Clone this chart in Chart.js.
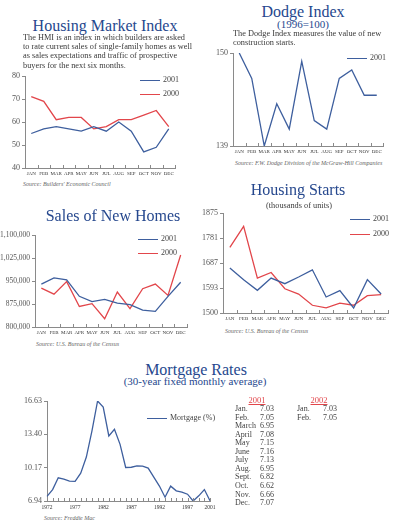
<!DOCTYPE html>
<html>
<head>
<meta charset="utf-8">
<script src="https://cdn.jsdelivr.net/npm/chart.js@4"></script>
<style>
body { margin: 0; width: 400px; height: 524px; position: relative; background: #fff; overflow: hidden;
       font-family: 'Liberation Serif', serif; color: #444; }
.a { position: absolute; white-space: nowrap; line-height: 1; }
.c { transform: translateX(-50%); }
.title { color: #26488e; font-size: 16px; }
.sub { color: #26488e; font-size: 11px; }
.desc { font-size: 8.3px; line-height: 9.2px; color: #3a3a3a; will-change: transform; }
.src { font-size: 6px; font-style: italic; color: #666; }
.lg { font-size: 8px; color: #444; }
.lg i { display: inline-block; width: 20px; height: 1.3px; vertical-align: middle; margin-right: 3px; }
.tbl { font-size: 8px; color: #444; }
.yr { font-size: 8.5px; color: #e2464b; text-decoration: underline; }
.box { position: absolute; }
</style>
</head>
<body>

<div class="a c title" style="left:105px;top:18px">Housing Market Index</div>
<div class="a desc" style="left:23px;top:33px">The HMI is an index in which builders are asked<br>to rate current sales of single-family homes as well<br>as sales expectations and traffic of prospective<br>buyers for the next six months.</div>
<div class="a src" style="left:23px;top:181px">Source: Builders' Economic Council</div>
<div class="box" style="left:0px;top:68px;width:180px;height:114px"><canvas id="hmi"></canvas></div>

<div class="a c title" style="left:303px;top:4px">Dodge Index</div>
<div class="a c sub" style="left:303px;top:18.5px">(1996=100)</div>
<div class="a desc" style="left:233px;top:29px">The Dodge Index measures the value of new<br>construction starts.</div>
<div class="a src" style="left:235px;top:160px">Source: F.W. Dodge Division of the McGraw-Hill Companies</div>
<div class="box" style="left:200px;top:45px;width:188px;height:115px"><canvas id="dodge"></canvas></div>

<div class="a c title" style="left:113px;top:208px">Sales of New Homes</div>
<div class="a src" style="left:36px;top:341px">Source: U.S. Bureau of the Census</div>
<div class="box" style="left:0px;top:227px;width:192px;height:114px"><canvas id="sales"></canvas></div>

<div class="a c title" style="left:298px;top:182px">Housing Starts</div>
<div class="a c desc" style="left:299px;top:201px">(thousands of units)</div>
<div class="a src" style="left:225px;top:328px">Source: U.S. Bureau of the Census</div>
<div class="box" style="left:200px;top:205px;width:193px;height:122px"><canvas id="starts"></canvas></div>

<div class="a c title" style="left:196px;top:362px">Mortgage Rates</div>
<div class="a c sub" style="left:195px;top:375.5px">(30-year fixed monthly average)</div>
<div class="a src" style="left:44px;top:515px">Source: Freddie Mac</div>
<div class="box" style="left:0px;top:393px;width:222px;height:120px"><canvas id="mort"></canvas></div>

<div id="legends"></div>
<div id="table"></div>

<script>
// monthly charts
const months = ['JAN', 'FEB', 'MAR', 'APR', 'MAY', 'JUN', 'JUL', 'AUG', 'SEP', 'OCT', 'NOV', 'DEC'];

const hmi2001 = [55, 57, 58, 57, 56, 58, 56, 60, 56, 47, 49, 57];
const hmi2000 = [71, 69, 61, 62, 62, 57, 58, 61, 61, 63, 65, 58];
const hmiTicks = [40, 50, 60, 70, 80];

const dodge2001 = [150, 147, 139, 144, 141, 149, 142, 141, 147, 148, 145, 145];
const dodgeTicks = [139, 150];

const sales2001 = [940000, 960000, 954000, 900000, 883000, 890000, 878000, 873000, 855000, 851000, 900000, 946000];
const sales2000 = [927000, 907000, 948000, 867000, 876000, 827000, 914000, 860000, 925000, 940000, 903000, 1035000];
const salesTicks = [800000, 875000, 950000, 1025000, 1100000];

const starts2001 = [1669, 1625, 1585, 1631, 1610, 1635, 1662, 1560, 1584, 1519, 1625, 1571];
const starts2000 = [1746, 1825, 1631, 1652, 1591, 1571, 1529, 1519, 1537, 1529, 1565, 1569];
const startsTicks = [1500, 1593, 1687, 1781, 1875];

// mortgage, yearly
const years = ['1972', '1973', '1974', '1975', '1976', '1977', '1978', '1979', '1980', '1981',
               '1982', '1983', '1984', '1985', '1986', '1987', '1988', '1989', '1990', '1991',
               '1992', '1993', '1994', '1995', '1996', '1997', '1998', '1999', '2000', '2001'];
const yearLabels = ['1972', '1977', '1982', '1987', '1992', '1997', '2001'];
const mortgage = [7.38, 8.04, 9.19, 9.05, 8.87, 8.85, 9.64, 11.20, 13.74, 16.63,
                  16.04, 13.24, 13.88, 12.43, 10.19, 10.21, 10.34, 10.32, 10.13, 9.25,
                  8.39, 7.31, 8.38, 7.93, 7.81, 7.60, 6.94, 7.44, 8.05, 6.97];
const mortTicks = [6.94, 10.17, 13.40, 16.63];

// table
const tblMonths2001 = ['Jan.', 'Feb.', 'March', 'April', 'May', 'June', 'July', 'Aug.', 'Sept.', 'Oct.', 'Nov.', 'Dec.'];
const tblRates2001 = ['7.03', '7.05', '6.95', '7.08', '7.15', '7.16', '7.13', '6.95', '6.82', '6.62', '6.66', '7.07'];
const tblMonths2002 = ['Jan.', 'Feb.'];
const tblRates2002 = ['7.03', '7.05'];

const blue = '#3e5f9e', red = '#e2464b', axis = '#8a8a8a';
Chart.defaults.font.family = "'Liberation Serif', serif";

// small tick marks pointing up from the x axis
const innerTicks = {
    id: 'innerTicks',
    afterDraw(chart) {
        const x = chart.scales.x, ctx = chart.ctx, b = chart.chartArea.bottom;
        const n = chart.data.labels.length;
        const off = x.options.offset;
        ctx.save();
        ctx.strokeStyle = axis;
        ctx.lineWidth = 1;
        ctx.beginPath();
        for (let i = 0; i < (off ? n + 1 : n); i++) {
            const px = Math.round(x.getPixelForValue(off ? i - 0.5 : i)) + 0.5;
            ctx.moveTo(px, b);
            ctx.lineTo(px, b - 3);
        }
        ctx.stroke();
        ctx.restore();
    }
};

function draw(id, labels, sets, yTicks, fmt, lay) {
    new Chart(document.getElementById(id), {
        type: 'line',
        data: {
            labels: labels,
            datasets: sets.map(s => ({
                data: s[0], borderColor: s[1], borderWidth: 1.3,
                pointRadius: 0, tension: 0, fill: false
            }))
        },
        options: {
            responsive: true,
            maintainAspectRatio: false,
            animation: false,
            layout: { padding: { top: lay.pt, right: lay.pr, left: 0, bottom: 0 } },
            plugins: { legend: { display: false }, tooltip: { enabled: false } },
            scales: {
                x: {
                    offset: lay.offset,
                    grid: { display: false, drawTicks: false },
                    border: { color: axis, width: 1 },
                    ticks: {
                        autoSkip: false, maxRotation: 0, padding: lay.xpad, color: '#333',
                        font: { size: lay.xfont },
                        callback: function (v) {
                            const l = this.getLabelForValue(v);
                            return lay.show && !lay.show.includes(l) ? '' : l;
                        }
                    },
                    afterFit: s => { s.height = lay.xh; }
                },
                y: {
                    min: yTicks[0],
                    max: yTicks[yTicks.length - 1],
                    afterBuildTicks: s => { s.ticks = yTicks.map(v => ({ value: v })); },
                    grid: { drawOnChartArea: false, tickLength: 3, color: axis },
                    border: { color: axis, width: 1 },
                    ticks: { padding: 2, color: '#555', font: { size: lay.yfont }, callback: v => fmt(v) },
                    afterFit: s => { s.width = lay.yw; }
                }
            }
        },
        plugins: [innerTicks]
    });
}

const month = { pt: 8, pr: 5, xh: 14, xpad: 3, xfont: 5, yfont: 8, offset: true };

draw('hmi', months, [[hmi2001, blue], [hmi2000, red]], hmiTicks, v => v, Object.assign({}, month, { yw: 25 }));
draw('dodge', months, [[dodge2001, blue]], dodgeTicks, v => v, Object.assign({}, month, { yw: 33 }));
draw('sales', months, [[sales2001, blue], [sales2000, red]], salesTicks,
     v => v.toLocaleString('en-US'), Object.assign({}, month, { yw: 35, yfont: 7.5 }));
draw('starts', months, [[starts2001, blue], [starts2000, red]], startsTicks, v => v, Object.assign({}, month, { yw: 23 }));
draw('mort', years, [[mortgage, blue]], mortTicks, v => v.toFixed(2),
     { pt: 8, pr: 12, xh: 12, xpad: 3, xfont: 5.5, yfont: 8, offset: false, yw: 47, show: yearLabels });

// legends
const legendItems = [
    [140, 80, blue, '2001'], [140, 94, red, '2000'],
    [347, 58, blue, '2001'],
    [138, 239, blue, '2001'], [138, 253, red, '2000'],
    [350, 219, blue, '2001'], [350, 234, red, '2000'],
    [147, 418, blue, 'Mortgage (%)']
];
let html = '';
legendItems.forEach(l => {
    html += `<div class="a lg" style="left:${l[0]}px;top:${l[1] - 4}px"><i style="background:${l[2]}"></i>${l[3]}</div>`;
});
document.getElementById('legends').innerHTML = html;

// rates table
let t = '<div class="a c yr" style="left:257px;top:396px">2001</div>' +
        '<div class="a c yr" style="left:319px;top:396px">2002</div>';
tblMonths2001.forEach((m, i) => {
    const y = 405 + i * 8.55;
    t += `<div class="a tbl" style="left:235px;top:${y}px">${m}</div>`;
    t += `<div class="a tbl" style="right:${400 - 274}px;top:${y}px">${tblRates2001[i]}</div>`;
});
tblMonths2002.forEach((m, i) => {
    const y = 405 + i * 8.55;
    t += `<div class="a tbl" style="left:297px;top:${y}px">${m}</div>`;
    t += `<div class="a tbl" style="right:${400 - 337}px;top:${y}px">${tblRates2002[i]}</div>`;
});
document.getElementById('table').innerHTML = t;
</script>
</body>
</html>
